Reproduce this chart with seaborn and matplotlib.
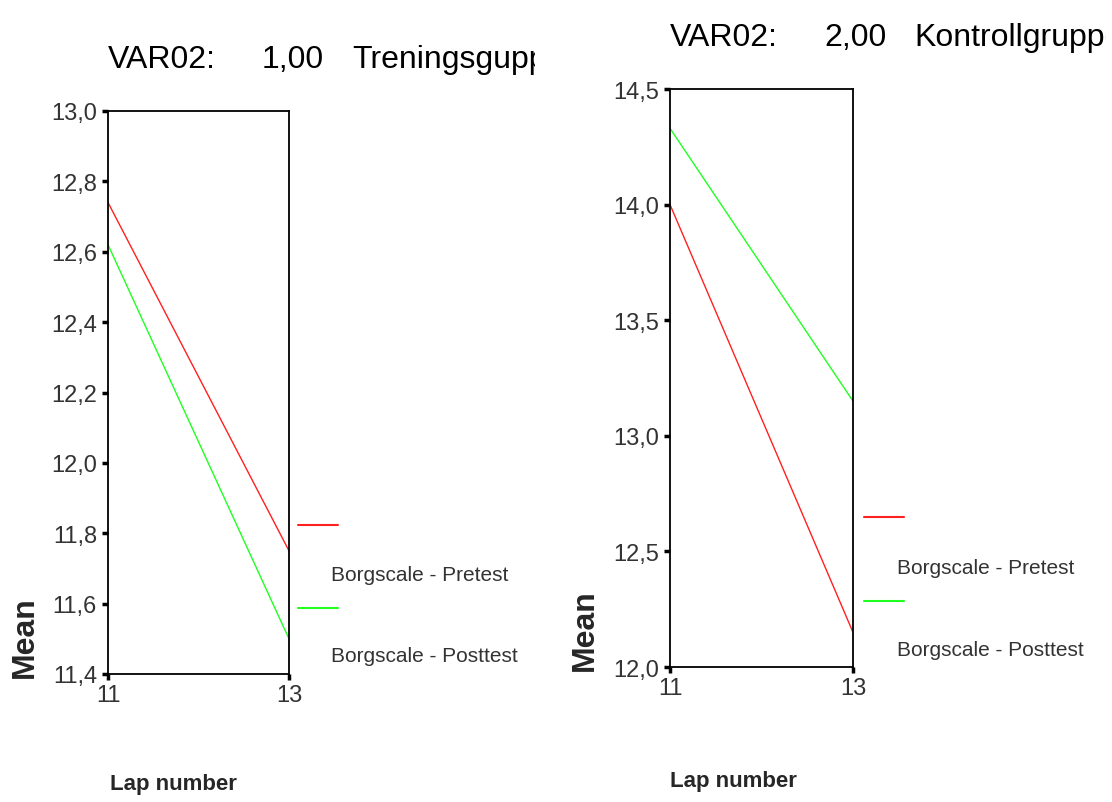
import numpy as np
import pandas as pd
import seaborn as sns
import matplotlib
matplotlib.use("Agg")
import matplotlib.pyplot as plt
from matplotlib.patches import Rectangle

laps = [11, 13]
series = ["Borgscale - Pretest", "Borgscale - Posttest"]
train_pre = [12.74, 11.75]
train_post = [12.62, 11.50]
ctrl_pre = [14.00, 12.15]
ctrl_post = [14.33, 13.15]
train_yticks = [11.4, 11.6, 11.8, 12.0, 12.2, 12.4, 12.6, 12.8, 13.0]
ctrl_yticks = [12.0, 12.5, 13.0, 13.5, 14.0, 14.5]

sns.set_style("white")
plt.rcParams["font.family"] = ["Liberation Sans", "DejaVu Sans"]

palette = {series[0]: "#ff2020", series[1]: "#20ff20"}

fig = plt.figure(figsize=(11.12, 8.03), dpi=100)
W, H = 1112, 803


def px_axes(x0, x1, y0, y1):
    return fig.add_axes([x0 / W, 1 - y1 / H, (x1 - x0) / W, (y1 - y0) / H])


def panel(ax, pre, post, yticks):
    df = pd.DataFrame({
        "lap": laps * 2,
        "mean": pre + post,
        "series": [series[0]] * 2 + [series[1]] * 2,
    })
    sns.lineplot(data=df, x="lap", y="mean", hue="series", palette=palette,
                 linewidth=1.0, ax=ax, legend=False)
    ax.set_xlim(laps[0], laps[-1])
    ax.set_ylim(yticks[0], yticks[-1])
    ax.set_xticks(laps)
    ax.set_xticklabels([str(v) for v in laps])
    ax.set_yticks(yticks)
    ax.set_yticklabels(["{:.1f}".format(v).replace(".", ",") for v in yticks])
    ax.set_xlabel("")
    ax.set_ylabel("")
    for s in ax.spines.values():
        s.set_visible(True)
        s.set_color("black")
        s.set_linewidth(1.3)
    ax.tick_params(direction="out", length=4, width=2.5, color="black",
                   labelsize=17, labelcolor="#333333", left=True, bottom=True)
    ax.tick_params(axis="y", pad=4)
    ax.tick_params(axis="x", pad=3)


ax1 = px_axes(108, 289, 112, 675)
panel(ax1, train_pre, train_post, train_yticks)
ax2 = px_axes(670, 853, 90, 668)
panel(ax2, ctrl_pre, ctrl_post, ctrl_yticks)


# legends drawn beside each panel
def legend(x, y_red, y_txt1, y_grn, y_txt2):
    fig.add_artist(plt.Line2D([x / W, (x + 40) / W], [1 - y_red / H] * 2,
                              color=palette[series[0]], lw=1.5))
    fig.add_artist(plt.Line2D([x / W, (x + 40) / W], [1 - y_grn / H] * 2,
                              color=palette[series[1]], lw=1.5))
    fig.text((x + 33) / W, 1 - y_txt1 / H, series[0], fontsize=15,
             color="#333333", va="center", ha="left")
    fig.text((x + 33) / W, 1 - y_txt2 / H, series[1], fontsize=15,
             color="#333333", va="center", ha="left")


legend(298, 526, 576, 609, 657)
legend(864, 518, 569, 602, 651)


# titles, clipped like the original
def title(x, y, group, label, clip_right):
    clip = Rectangle((0, 0), clip_right / W, 1, transform=fig.transFigure)
    for dx, s in [(0, "VAR02:"), (154, group), (244, label)]:
        t = fig.text((x + dx) / W, 1 - y / H, s, fontsize=23, va="center",
                     ha="left", color="black")
        t.set_clip_path(clip)


title(108, 60, "1,00", "Treningsgupp", 535)
title(670, 38, "2,00", "Kontrollgruppe", 1106)

for xm, ym in [(25, 637), (585, 630)]:
    fig.text(xm / W, 1 - ym / H, "Mean", rotation=90, fontsize=23,
             fontweight="bold", va="center", ha="center")
for xl, yl in [(110, 785), (670, 782)]:
    fig.text(xl / W, 1 - yl / H, "Lap number", fontsize=16,
             fontweight="bold", va="center", ha="left")

fig.savefig("out.png", dpi=100)
